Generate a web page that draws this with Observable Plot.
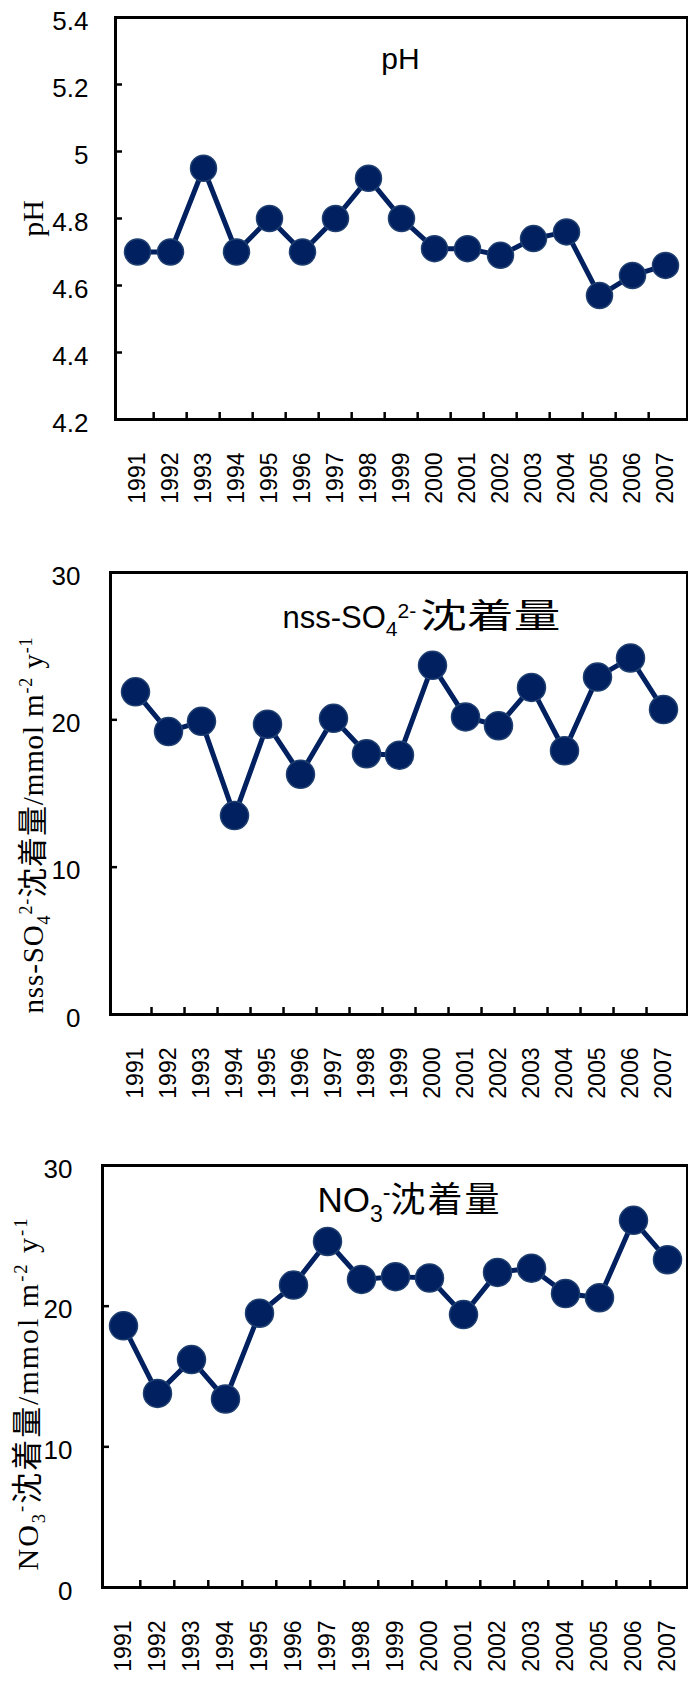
<!DOCTYPE html>
<html>
<head>
<meta charset="utf-8">
<script src="https://cdn.jsdelivr.net/npm/d3@7"></script>
<script src="https://cdn.jsdelivr.net/npm/@observablehq/plot@0.6"></script>
<style>
  html, body { margin: 0; padding: 0; background: #fff; }
  #charts { position: relative; width: 688px; height: 1681px; overflow: hidden; background: #fff; }
  #charts svg { position: absolute; left: 0; }
</style>
</head>
<body>
<div id="charts"></div>
<script>
// Annual precipitation chemistry, 1991–2007
const years = ["1991","1992","1993","1994","1995","1996","1997","1998","1999","2000","2001","2002","2003","2004","2005","2006","2007"];
const phValues = [4.70, 4.70, 4.95, 4.70, 4.80, 4.70, 4.80, 4.92, 4.80, 4.71, 4.71, 4.69, 4.74, 4.76, 4.57, 4.63, 4.66];
const sulfateValues = [21.9, 19.2, 19.9, 13.5, 19.7, 16.3, 20.1, 17.7, 17.6, 23.7, 20.2, 19.6, 22.2, 17.9, 22.9, 24.2, 20.7];
const nitrateValues = [18.6, 13.8, 16.2, 13.4, 19.5, 21.5, 24.6, 21.9, 22.1, 22.0, 19.4, 22.4, 22.7, 20.9, 20.6, 26.1, 23.3];

const phTicks = [4.2, 4.4, 4.6, 4.8, 5.0, 5.2, 5.4];
const depositionTicks = [0, 10, 20, 30];

// Rich-text labels: [text, role] with role "" (normal), "sub" or "sup"
const phTitle = [["pH", ""]];
const sulfateTitle = [["nss-SO", ""], ["4", "sub"], ["2-", "sup"], ["沈着量", ""]];
const nitrateTitle = [["NO", ""], ["3", "sub"], ["-", "sup"], ["沈着量", ""]];
const phAxisLabel = [["pH", ""]];
const sulfateAxisLabel = [["nss-SO", ""], ["4", "sub"], ["2-", "sup"], ["沈着量/mmol m", ""], ["-2", "sup"], [" y", ""], ["-1", "sup"]];
const nitrateAxisLabel = [["NO", ""], ["3", "sub"], ["-", "sup"], ["沈着量/mmol m", ""], ["-2", "sup"], [" y", ""], ["-1", "sup"]];

const SANS = "'Liberation Sans', Arial, 'Noto Sans CJK JP', sans-serif";
const NARROW = "'Liberation Sans Narrow', 'Arial Narrow', 'Liberation Sans', sans-serif";
const SERIF = "'Liberation Serif', 'Times New Roman', 'Noto Sans CJK JP', serif";
const CJK = "'Noto Sans CJK JP', sans-serif";
const NAVY = "#002060";
const OUTLINE = "#1f3f70";
const WIDTH = 688;
const SVGNS = "http://www.w3.org/2000/svg";

const plain = (segments) => segments.map((s) => s[0]).join("");

// Rebuild a text node as tspans with sub/superscripts and a CJK font run.
function richText(node, segments, o) {
  node.textContent = "";
  let shift = 0;
  for (const [str, role] of segments) {
    const s = role === "sub" ? o.subShift : role === "sup" ? -o.supShift : 0;
    const size = role ? o.size * o.scriptScale : o.size;
    const parts = str.match(/[\u3000-\u9fff]+|[^\u3000-\u9fff]+/g);
    parts.forEach((p, j) => {
      const ts = document.createElementNS(SVGNS, "tspan");
      if (j === 0 && s !== shift) ts.setAttribute("dy", s - shift);
      const cjk = /[\u3000-\u9fff]/.test(p);
      ts.setAttribute("font-size", cjk ? o.cjkSize : size);
      if (cjk) {
        ts.setAttribute("font-family", CJK);
        if (o.cjkSpacing) ts.setAttribute("letter-spacing", o.cjkSpacing);
        if (o.cjkDx) ts.setAttribute("dx", o.cjkDx);
        if (o.cjkLength) {
          ts.setAttribute("textLength", o.cjkLength);
          ts.setAttribute("lengthAdjust", "spacingAndGlyphs");
        }
      } else if (o.spacing) {
        ts.setAttribute("letter-spacing", o.spacing);
      }
      ts.textContent = p;
      node.appendChild(ts);
    });
    shift = s;
  }
  if (o.length) {
    node.setAttribute("textLength", o.length);
    node.setAttribute("lengthAdjust", "spacing");
  }
}

function panel(cfg) {
  const marginRight = 1;
  const frameW = WIDTH - marginRight - cfg.marginLeft;
  const frameH = cfg.height - cfg.marginTop - cfg.marginBottom;
  const step = frameW / years.length;
  const rows = years.map((year, i) => ({year, value: cfg.values[i]}));
  const titleText = plain(cfg.title);
  const axisText = plain(cfg.axisLabel);

  const svg = Plot.plot({
    width: WIDTH,
    height: cfg.height,
    marginLeft: cfg.marginLeft,
    marginRight,
    marginTop: cfg.marginTop,
    marginBottom: cfg.marginBottom,
    style: {fontFamily: SANS, background: "white", color: "black", overflow: "visible"},
    x: {type: "point", domain: years, padding: 0.5, axis: null},
    y: {domain: cfg.domain, axis: null},
    marks: [
      // inward tick marks on the value axis
      Plot.tickY(cfg.ticks.slice(1, -1), {y: (d) => d, stroke: "black", strokeWidth: 2.5, insetRight: frameW - 7}),
      // inward tick marks between year categories
      Plot.tickX(years.slice(1), {x: (d) => d, dx: -step / 2, stroke: "black", strokeWidth: 2.5, insetTop: frameH - 7}),
      Plot.frame({stroke: "black", strokeWidth: 3}),
      // value tick labels
      Plot.text(cfg.ticks, {
        y: (d) => d, text: cfg.tickFormat, frameAnchor: "left", textAnchor: "end",
        dx: -cfg.tickGap, dy: 4, fontSize: 26, fontFamily: NARROW, fill: "black"
      }),
      // rotated year labels
      Plot.text(years, {
        x: (d) => d, text: (d) => d, frameAnchor: "bottom", rotate: -90, textAnchor: "end",
        lineAnchor: "middle", dy: cfg.yearGap, fontSize: cfg.yearSize, fill: "black"
      }),
      Plot.line(rows, {x: "year", y: "value", stroke: NAVY, strokeWidth: 5}),
      Plot.dot(rows, {x: "year", y: "value", r: cfg.r, fill: NAVY, stroke: OUTLINE, strokeWidth: 1.5}),
      // panel title inside the frame
      Plot.text([titleText], {
        text: (d) => d, frameAnchor: "top", textAnchor: cfg.titleAnchor, lineAnchor: "bottom",
        dx: cfg.titleDx, dy: cfg.titleDy, fontSize: cfg.titleFont.size, fill: "black"
      }),
      // vertical axis title
      Plot.text([axisText], {
        text: (d) => d, frameAnchor: cfg.axisAnchor, rotate: -90, textAnchor: cfg.axisTextAnchor,
        lineAnchor: "bottom", dx: cfg.axisDx, dy: cfg.axisDy, fontSize: cfg.axisFont.size,
        fontFamily: SERIF, fill: "black"
      })
    ]
  });

  // the two label marks are the last two groups; rebuild their text as rich text
  const groups = svg.querySelectorAll(":scope > g");
  const titleNode = groups[groups.length - 2].querySelector("text");
  const axisNode = groups[groups.length - 1].querySelector("text");
  if (titleNode && titleNode.textContent === titleText) richText(titleNode, cfg.title, cfg.titleFont);
  if (axisNode && axisNode.textContent === axisText) richText(axisNode, cfg.axisLabel, cfg.axisFont);

  svg.style.top = cfg.top + "px";
  document.getElementById("charts").appendChild(svg);
}

const fmtPh = (d) => String(+d.toFixed(1));
const fmtInt = (d) => String(d);

// pH
panel({
  top: 0, height: 540, marginLeft: 115, marginTop: 17, marginBottom: 121,
  values: phValues, domain: [4.2, 5.4], ticks: phTicks, tickFormat: fmtPh, tickGap: 27,
  yearGap: 33, yearSize: 23, r: 13,
  title: phTitle, titleAnchor: "middle", titleDx: -1, titleDy: 51,
  titleFont: {size: 30, scriptScale: 0.67, subShift: 8, supShift: 9, cjkSize: 33},
  axisLabel: phAxisLabel, axisAnchor: "left", axisTextAnchor: "middle", axisDx: 42 - 115, axisDy: 0,
  axisFont: {size: 30, scriptScale: 0.65, subShift: 7, supShift: 10, cjkSize: 30}
});

// nss-SO4 deposition
panel({
  top: 540, height: 570, marginLeft: 110, marginTop: 32, marginBottom: 96,
  values: sulfateValues, domain: [0, 30], ticks: depositionTicks, tickFormat: fmtInt, tickGap: 30,
  yearGap: 33, yearSize: 23, r: 14,
  title: sulfateTitle, titleAnchor: "start", titleDx: 282 - (110 + 687) / 2, titleDy: 627 - 572,
  titleFont: {size: 31, scriptScale: 0.68, subShift: 8, supShift: 10, cjkSize: 34, cjkDx: 4, cjkLength: 140},
  axisLabel: sulfateAxisLabel, axisAnchor: "bottom-left", axisTextAnchor: "start", axisDx: 42 - 110, axisDy: -1,
  axisFont: {size: 29, scriptScale: 0.62, subShift: 7, supShift: 11, cjkSize: 30, length: 376}
});

// NO3 deposition
panel({
  top: 1110, height: 571, marginLeft: 102, marginTop: 55, marginBottom: 94,
  values: nitrateValues, domain: [0, 30], ticks: depositionTicks, tickFormat: fmtInt, tickGap: 30,
  yearGap: 33, yearSize: 23, r: 14,
  title: nitrateTitle, titleAnchor: "start", titleDx: 317 - (102 + 687) / 2, titleDy: 1211 - 1165,
  titleFont: {size: 35, scriptScale: 0.66, subShift: 10, supShift: 12, cjkSize: 35, cjkSpacing: 2},
  axisLabel: nitrateAxisLabel, axisAnchor: "bottom-left", axisTextAnchor: "start", axisDx: 37 - 102, axisDy: 1570 - 1587,
  axisFont: {size: 30, scriptScale: 0.62, subShift: 7, supShift: 11, cjkSize: 31, length: 352}
});
</script>
</body>
</html>
